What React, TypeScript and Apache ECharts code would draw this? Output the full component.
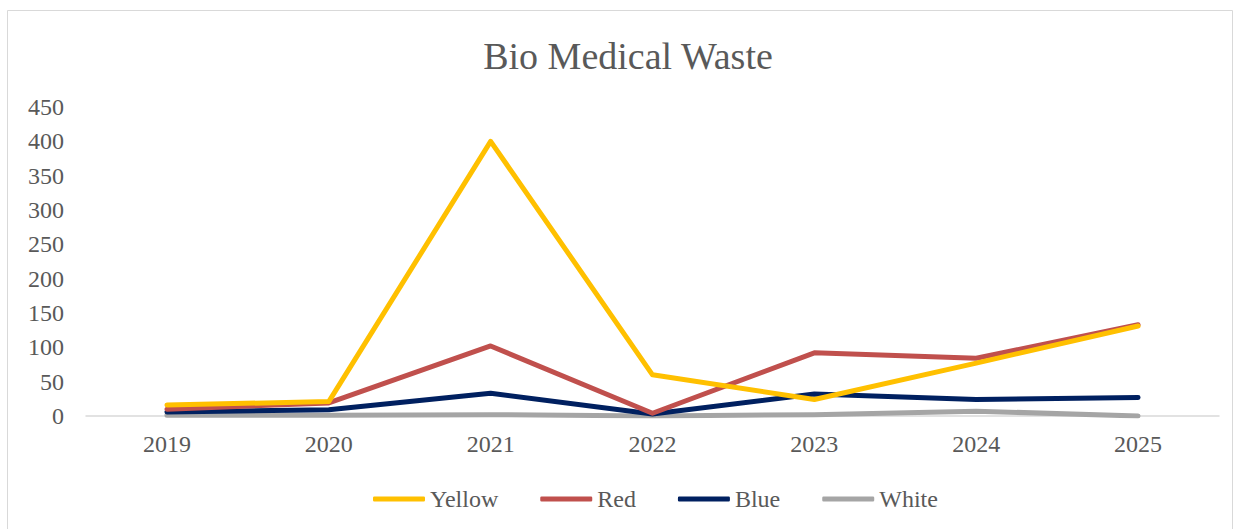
import React, { useEffect, useRef } from "react";
import * as echarts from "echarts";

const categories = ["2019", "2020", "2021", "2022", "2023", "2024", "2025"];
const yellow = [16, 21, 400, 60, 24, 77, 131];
const red = [10, 19, 102, 4, 92, 84, 133];
const blue = [6, 9, 33, 3, 32, 24, 27];
const white = [1, 1, 2, 0, 2, 7, 0];
const seriesNames = ["Yellow", "Red", "Blue", "White"];
const seriesColors = ["#FFC000", "#C0504D", "#002060", "#A5A5A5"];
const yTicks = { min: 0, max: 450, interval: 50 };

const FONT = "'Liberation Serif', 'DejaVu Serif', serif";

export default function App() {
  const ref = useRef<HTMLDivElement>(null);
  useEffect(() => {
    const chart = echarts.init(ref.current!, undefined, { renderer: "svg" });
    const data = [yellow, red, blue, white];
    chart.setOption({
      animation: false,
      backgroundColor: "#ffffff",
      title: {
        text: "Bio Medical Waste",
        left: 623,
        top: 32,
        textAlign: "center",
        textStyle: { fontFamily: FONT, fontSize: 38, fontWeight: "normal", color: "#595959" },
      },
      graphic: [
        {
          type: "rect",
          shape: { x: 7.5, y: 10.5, width: 1225, height: 530 },
          style: { fill: "none", stroke: "#d9d9d9", lineWidth: 1 },
          silent: true,
        },
      ],
      legend: {
        left: 368,
        top: 482,
        itemWidth: 52,
        itemHeight: 5,
        itemGap: 42,
        icon: "roundRect",
        textStyle: { fontFamily: FONT, fontSize: 24, color: "#595959" },
        data: seriesNames,
      },
      grid: { left: 86, right: 17, top: 107, bottom: 113 },
      xAxis: {
        type: "category",
        data: categories,
        boundaryGap: true,
        axisLine: { lineStyle: { color: "#d9d9d9", width: 1.5 } },
        axisTick: { show: false },
        axisLabel: { fontFamily: FONT, fontSize: 24, color: "#595959", margin: 16 },
      },
      yAxis: {
        type: "value",
        min: yTicks.min,
        max: yTicks.max,
        interval: yTicks.interval,
        splitLine: { show: false },
        axisLine: { show: false },
        axisTick: { show: false },
        axisLabel: { fontFamily: FONT, fontSize: 24, color: "#595959", margin: 22 },
      },
      series: seriesNames.map((name, i) => ({
        name,
        type: "line",
        data: data[i],
        symbol: "none",
        z: 10 - i,
        lineStyle: { color: seriesColors[i], width: 5, cap: "round", join: "round" },
        itemStyle: { color: seriesColors[i] },
      })),
    });
    return () => chart.dispose();
  }, []);
  return (
    <div
      ref={ref}
      style={{ position: "absolute", left: 0, top: 0, width: 1236, height: 529 }}
    />
  );
}
